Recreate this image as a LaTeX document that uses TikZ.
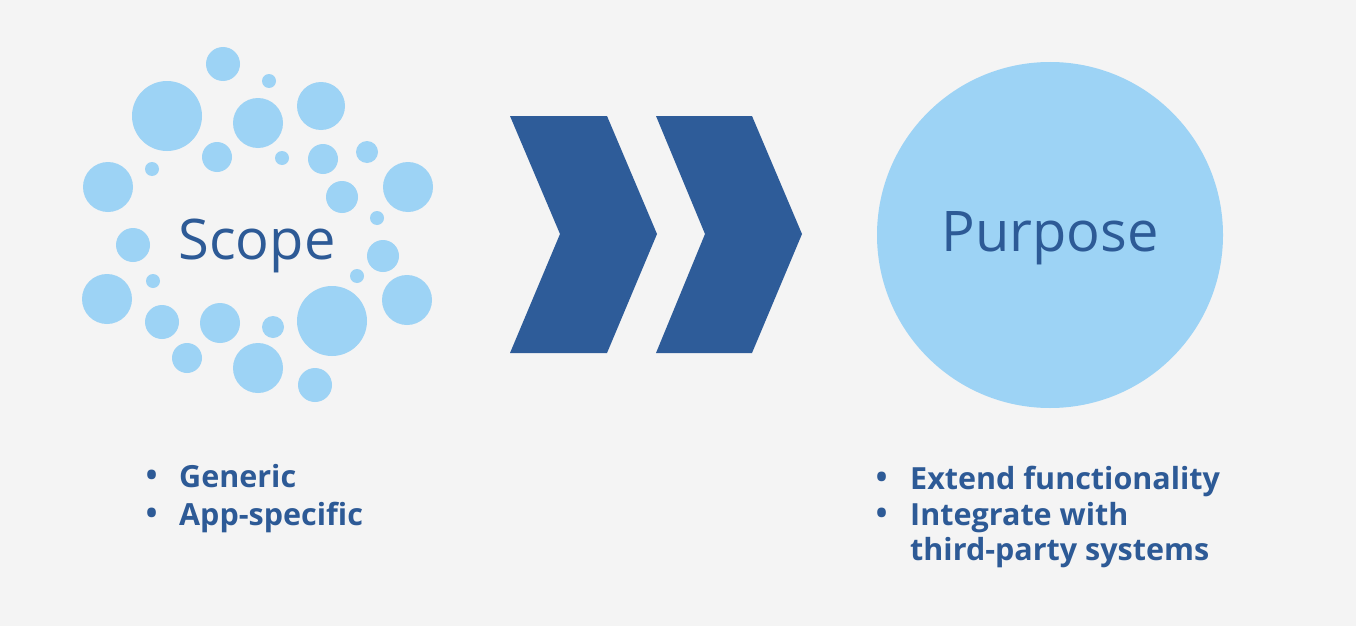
\documentclass[tikz,border=0pt]{standalone}
\usepackage{fontspec}
\setmainfont{Open Sans}
\usetikzlibrary{positioning}
\definecolor{bgcol}{HTML}{F4F4F4}
\definecolor{bubble}{HTML}{9DD3F5}
\definecolor{chevcol}{HTML}{2E5C99}
\definecolor{inkcol}{HTML}{2D5A96}

\begin{document}
\begin{tikzpicture}[
  x=1pt, y=-1pt,
  title/.style={text=inkcol, font=\fontsize{56}{66}\selectfont, inner sep=0pt},
  item/.style={text=inkcol, font=\fontsize{30.5}{36}\selectfont\bfseries, anchor=base west, inner sep=0pt},
  dot/.style={text=inkcol, font=\fontsize{40}{40}\selectfont, anchor=base, inner sep=0pt},
  chevron/.style={fill=chevcol}
]
  \fill[bgcol] (0,0) rectangle (1356,626);
  \useasboundingbox (0,0) rectangle (1356,626);

  % Scope bubbles
  \foreach \bx/\by/\br in {223/64/17, 269/81/7, 167/116/35, 258/123/25, 321/106/24,
    217/157/15, 282/158/7, 323/159/15, 367/152/11, 108/187/25, 152/169/7,
    342/197/16, 408/187/25, 377/218/7, 133/245/17, 383/256/16, 153/281/7,
    357/276/7, 107/299/25, 407/300/25, 162/322/17, 220/323/20, 273/327/11,
    332/321/35, 187/358/15, 258/368/25, 315/385/17}
    \fill[bubble] (\bx,\by) circle[radius=\br];
  \node[title] (scope) at (257,246) {Scope};

  % Chevrons
  \fill[chevron] (510,116) -- (607,116) -- (657,234) -- (607,353) -- (510,353) -- (560,234) -- cycle;
  \fill[chevron] (656,116) -- (752,116) -- (802,234) -- (752,353) -- (656,353) -- (705,234) -- cycle;

  % Purpose
  \fill[bubble] (1050,235) circle[radius=173];
  \node[title] (purpose) at (1050,238) {Purpose};

  % Left list
  \node[item] (generic) at (179,487) {Generic};
  \node[item] (appspec) at (179,525) {App-specific};
  \node[dot] at (152,489) {\textbullet};
  \node[dot] at (152,527) {\textbullet};

  % Right list
  \node[item] (extend) at (910,489) {Extend functionality};
  \node[item] (integrate) at (910,525) {Integrate with};
  \node[item] (thirdparty) at (910,560) {third-party systems};
  \node[dot] at (882,491) {\textbullet};
  \node[dot] at (882,527) {\textbullet};
\end{tikzpicture}
\end{document}
